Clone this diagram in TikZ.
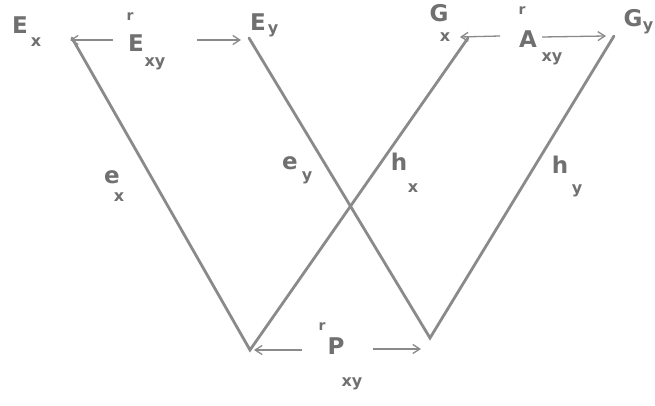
\documentclass[tikz,border=0pt]{standalone}
\usepackage{fontspec}
\setmainfont{DejaVu Sans}
\usetikzlibrary{arrows.meta}
\definecolor{ink}{HTML}{8A8A8A}
\definecolor{inkd}{HTML}{707070}
\begin{document}
\begin{tikzpicture}[x=1pt,y=-1pt,
  wire/.style={draw=ink,line width=2.8pt,line cap=round},
  vec/.style={draw=ink,line width=1.3pt,-{Straight Barb[length=7pt,width=9pt]}},
  big/.style={text=inkd,inner sep=0pt,font=\bfseries\fontsize{23}{24}\selectfont},
  sub/.style={text=inkd,inner sep=0pt,font=\bfseries\fontsize{16}{17}\selectfont},
  sup/.style={text=inkd,inner sep=0pt,font=\bfseries\fontsize{14}{15}\selectfont}]
\useasboundingbox (0,0) rectangle (655,406);
\fill[white] (0,0) rectangle (655,406);
% vertices
\coordinate (A) at (72,38);
\coordinate (B) at (249,38);
\coordinate (C) at (468,38);
\coordinate (D) at (614,36);
\coordinate (V1) at (250,350);
\coordinate (V2) at (430,338);
\draw[wire] (A) -- (V1) -- (C);
\draw[wire] (B) -- (V2) -- (D);
% top-left labels
\node[big] (Ex) at (20,25) {E};
\node[sub] (Exs) at (36,42) {x};
\node[sup] (Exyr) at (130,17) {r};
\node[big] (Exy) at (136,43) {E};
\node[sub] (Exys) at (155,64) {xy};
\node[big] (Ey) at (258,22) {E};
\node[sub] (Eys) at (273,31) {y};
\coordinate (aEl) at (113,40);
\coordinate (aEr) at (197,40);
\coordinate (tEl) at (70,40);
\coordinate (tEr) at (241,40);
\draw[vec] (aEl) -- (tEl);
\draw[vec] (aEr) -- (tEr);
% top-right labels
\node[big] (Gx) at (439,13) {G};
\node[sub] (Gxs) at (445,37) {x};
\node[sup] (Axyr) at (522,11) {r};
\node[big] (Axy) at (528,39) {A};
\node[sub] (Axys) at (552,59) {xy};
\node[big] (Gy) at (633,18) {G};
\node[sub] (Gys) at (648,28) {y};
\coordinate (aAl) at (500,36);
\coordinate (aAr) at (542,37);
\coordinate (tAl) at (460,37);
\coordinate (tAr) at (606,36);
\draw[vec] (aAl) -- (tAl);
\draw[vec] (aAr) -- (tAr);
% side labels
\node[big] (ex) at (112,177) {e};
\node[sub] (exs) at (119,197) {x};
\node[big] (ey) at (290,163) {e};
\node[sub] (eys) at (307,178) {y};
\node[big] (hx) at (399,162) {h};
\node[sub] (hxs) at (413,188) {x};
\node[big] (hy) at (560,165) {h};
\node[sub] (hys) at (577,191) {y};
% bottom labels
\node[sup] (Pr) at (322,327) {r};
\node[big] (P) at (336,346) {P};
\node[sub] (Ps) at (352,384) {xy};
\coordinate (aPl) at (302,350);
\coordinate (aPr) at (373,349);
\coordinate (tPl) at (254,350);
\coordinate (tPr) at (421,349);
\draw[vec] (aPl) -- (tPl);
\draw[vec] (aPr) -- (tPr);
\end{tikzpicture}
\end{document}
